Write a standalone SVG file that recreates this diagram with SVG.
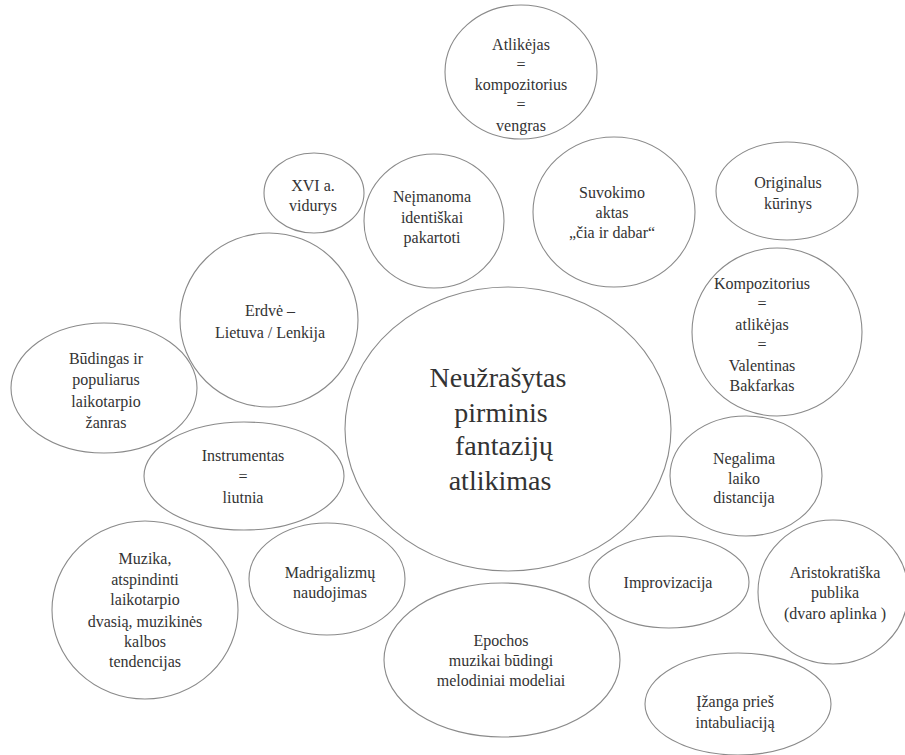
<svg xmlns="http://www.w3.org/2000/svg" width="905" height="755" viewBox="0 0 905 755">
<style>
ellipse{fill:#fff;stroke:#8a8a8a;stroke-width:1.1}
text{font-family:"Liberation Serif","DejaVu Serif",serif;font-size:16px;fill:#333;text-anchor:middle;dominant-baseline:central}
.big{font-size:28px}
</style>
<rect width="905" height="755" fill="#fff"/>
<g id="n-atlikejas"><ellipse cx="521" cy="72" rx="76" ry="67"/>
<text x="521" y="44">Atlikėjas</text><text x="521" y="64">=</text><text x="521" y="84">kompozitorius</text><text x="521" y="104">=</text><text x="521" y="125">vengras</text></g>
<g id="n-xvi"><ellipse cx="314" cy="193" rx="50" ry="40"/>
<text x="313" y="185">XVI a.</text><text x="313" y="205">vidurys</text></g>
<g id="n-neimanoma"><ellipse cx="434" cy="221" rx="70" ry="67"/>
<text x="432" y="196">Neįmanoma</text><text x="432" y="217">identiškai</text><text x="432" y="237">pakartoti</text></g>
<g id="n-suvokimo"><ellipse cx="614" cy="212" rx="81" ry="75"/>
<text x="612" y="192">Suvokimo</text><text x="612" y="212">aktas</text><text x="612" y="232">„čia ir dabar“</text></g>
<g id="n-originalus"><ellipse cx="787" cy="191" rx="71" ry="49"/>
<text x="788" y="182">Originalus</text><text x="788" y="203">kūrinys</text></g>
<g id="n-kompozitorius"><ellipse cx="777" cy="332" rx="85" ry="84"/>
<text x="762" y="283">Kompozitorius</text><text x="762" y="303">=</text><text x="762" y="324">atlikėjas</text><text x="762" y="344">=</text><text x="762" y="365">Valentinas</text><text x="762" y="385">Bakfarkas</text></g>
<g id="n-erdve"><ellipse cx="269" cy="320" rx="89" ry="87"/>
<text x="270" y="310">Erdvė –</text><text x="270" y="332">Lietuva / Lenkija</text></g>
<g id="n-center"><ellipse cx="508" cy="429" rx="163" ry="142"/>
<text class="big" x="498" y="377">Neužrašytas</text><text class="big" x="501" y="412">pirminis</text><text class="big" x="504" y="445">fantazijų</text><text class="big" x="500" y="480">atlikimas</text></g>
<g id="n-budingas"><ellipse cx="104" cy="388" rx="93" ry="65"/>
<text x="106" y="358">Būdingas ir</text><text x="106" y="379">populiarus</text><text x="106" y="401">laikotarpio</text><text x="106" y="422">žanras</text></g>
<g id="n-instrumentas"><ellipse cx="244" cy="476" rx="100" ry="54"/>
<text x="243" y="455">Instrumentas</text><text x="243" y="476">=</text><text x="243" y="497">liutnia</text></g>
<g id="n-negalima"><ellipse cx="746" cy="476" rx="76" ry="60"/>
<text x="744" y="458">Negalima</text><text x="744" y="478">laiko</text><text x="744" y="497">distancija</text></g>
<g id="n-muzika"><ellipse cx="145" cy="610" rx="93" ry="89"/>
<text x="145" y="558">Muzika,</text><text x="145" y="579">atspindinti</text><text x="145" y="599">laikotarpio</text><text x="145" y="621">dvasią, muzikinės</text><text x="145" y="641">kalbos</text><text x="145" y="661">tendencijas</text></g>
<g id="n-madrigalizmu"><ellipse cx="327" cy="579" rx="78" ry="56"/>
<text x="330" y="572">Madrigalizmų</text><text x="330" y="592">naudojimas</text></g>
<g id="n-improvizacija"><ellipse cx="669" cy="582" rx="80" ry="46"/>
<text x="668" y="582">Improvizacija</text></g>
<g id="n-aristokratiska"><ellipse cx="833" cy="592" rx="75" ry="72"/>
<text x="835" y="572">Aristokratiška</text><text x="835" y="592">publika</text><text x="835" y="613">(dvaro aplinka )</text></g>
<g id="n-epochos"><ellipse cx="502" cy="660" rx="118" ry="77"/>
<text x="501" y="640">Epochos</text><text x="501" y="660">muzikai būdingi</text><text x="501" y="680">melodiniai modeliai</text></g>
<g id="n-izanga"><ellipse cx="738" cy="704" rx="93" ry="51"/>
<text x="735" y="701">Įžanga prieš</text><text x="735" y="722">intabuliaciją</text></g>
<g id="connectors"/>
</svg>
